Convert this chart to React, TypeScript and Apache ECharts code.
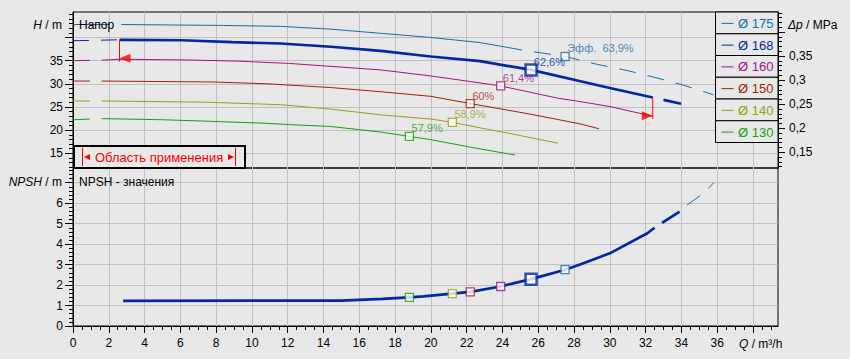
import { useEffect, useRef } from 'react';
import * as echarts from 'echarts';

// ---------------- data ----------------
const DIAMETERS = ['175', '168', '160', '150', '140', '130'];
const EFF_LABELS = ['Эфф.  63,9%', '62,6%', '61,4%', '60%', '58,9%', '57,9%'];
const EFF_Q = [27.5, 25.6, 23.9, 22.2, 21.2, 18.8];
const EFF_H = [35.9, 33.0, 29.55, 25.75, 21.7, 18.65];
const EFF_NPSH = [2.75, 2.29, 1.93, 1.67, 1.58, 1.4];

// H(Q) curves, [Q m³/h, H m]
const H175_START = [[0, 42.8], [2.7, 42.8]];
const H175_MAIN = [[2.7, 42.8], [8.4, 42.6], [11.6, 42.4], [14.4, 41.8], [17.2, 40.9], [20, 40.0], [22.75, 38.9], [25.1, 37.3]];
const H175_END = [[25.1, 37.3], [27.5, 35.9], [29.3, 34.2], [31, 32.85], [32.5, 31.4], [34, 29.85], [35.5, 28.0], [35.8, 27.6]];

const H168_START = [[0, 39.3], [2.6, 39.5]];
const H168_MAIN = [[2.6, 39.5], [6.1, 39.4], [8.9, 39.0], [11.6, 38.7], [14.4, 38.0], [17.2, 37.1], [20, 35.9], [22.75, 34.9], [25.6, 33.0], [28.3, 30.6], [30, 29.1], [32.4, 27.05]];
const H168_END = [[32.4, 27.05], [34, 25.7]];

const H160_START = [[0, 35.0], [1.6, 35.1]];
const H160_MAIN = [[1.6, 35.1], [2.6, 35.3], [6.4, 35.15], [9.2, 34.9], [12.1, 34.4], [17.2, 33.0], [20, 31.7], [22.75, 30.2], [23.9, 29.55], [27.1, 26.9], [28.3, 26.2], [30, 25.1], [32.4, 23.0]];

const H150_START = [[0, 30.6], [1.6, 30.6]];
const H150_MAIN = [[1.6, 30.6], [7.8, 30.4], [10.9, 30.0], [14.4, 29.2], [17.2, 28.3], [20, 27.3], [22.2, 25.75], [25.5, 23.5], [28.3, 21.4], [29.4, 20.3]];

const H140_START = [[0, 26.3], [1.6, 26.3]];
const H140_MAIN = [[1.6, 26.3], [7.4, 26.05], [9.3, 25.8], [11.6, 25.5], [14.4, 24.55], [17.2, 23.3], [20, 22.4], [21.2, 21.7], [22.75, 20.5], [24.4, 19.3], [27.1, 17.2]];

const H130_START = [[0, 22.25], [1.6, 22.5]];
const H130_MAIN = [[1.6, 22.5], [5, 22.25], [7.8, 21.9], [10.7, 21.5], [12.1, 21.2], [14.4, 20.8], [17.2, 19.6], [18.8, 18.65], [20, 17.95], [22.4, 16.2], [24.7, 14.65]];

// operating range boundaries
const RANGE_LEFT = [[2.6, 39.5], [2.6, 34.8]];
const RANGE_RIGHT = [[32.4, 27.05], [32.4, 22.45]];
const RANGE_ARROWS = [[2.6, 35.5], [32.4, 23.1]];

// NPSH(Q)
const NPSH_MAIN = [[2.8, 1.23], [15, 1.24], [17.3, 1.33], [18.8, 1.4], [19.6, 1.45], [21.2, 1.58], [22.2, 1.67], [23.9, 1.93], [25.6, 2.29], [27.5, 2.75], [28.3, 2.99], [30, 3.55], [32.1, 4.53], [32.5, 4.8]];
const NPSH_END = [[32.5, 4.8], [33.9, 5.59]];
const NPSH_175 = [[33.9, 5.59], [34.3, 5.9], [35.05, 6.37], [35.55, 6.76], [35.8, 7.0]];

// axis labels
const X_LABELS = [0, 2, 4, 6, 8, 10, 12, 14, 16, 18, 20, 22, 24, 26, 28, 30, 32, 34, 36];
const H_LABELS = [15, 20, 25, 30, 35];
const DP_LABELS = [0.15, 0.2, 0.25, 0.3, 0.35];
const NPSH_LABELS = [0, 1, 2, 3, 4, 5, 6];

// ---------------- styles ----------------
const COLORS = ['#146eaa', '#0028a0', '#a01482', '#a01e0a', '#96a014', '#14a014'];
const BG = '#e8e8e8';
const GRID = '#c0c0c0';
const FONT = 'Liberation Sans, Arial, sans-serif';
const RED = '#ff0000';

const tickRange = (a: number, b: number, step: number) => {
  const out: number[] = [];
  for (let v = a; v <= b + 1e-9; v += step) out.push(Math.round(v * 1000) / 1000);
  return out;
};

const lbl = { color: '#000', fontSize: 12, fontFamily: FONT };
const blackLine = { color: '#000', width: 1 };

function line(data: number[][], color: string, width: number, xi: number, yi: number, dash?: number[], dashOffset?: number) {
  return {
    type: 'line',
    data,
    xAxisIndex: xi,
    yAxisIndex: yi,
    showSymbol: false,
    symbol: 'none',
    smooth: false,
    silent: true,
    z: 3,
    lineStyle: { color, width, type: dash || 'solid', dashOffset: dashOffset || 0, cap: 'butt' },
  };
}

function buildOption() {
  const series: any[] = [
    line(H175_START, COLORS[0], 1, 0, 0, [37, 12]),
    line(H175_MAIN, COLORS[0], 1, 0, 0),
    line(H175_END, COLORS[0], 1, 0, 0, [17, 12], 17),
    line(H160_START, COLORS[2], 1, 0, 0, [17, 12]),
    line(H160_MAIN, COLORS[2], 1, 0, 0),
    line(H150_START, COLORS[3], 1, 0, 0, [17, 12]),
    line(H150_MAIN, COLORS[3], 1, 0, 0),
    line(H140_START, COLORS[4], 1, 0, 0, [17, 12]),
    line(H140_MAIN, COLORS[4], 1, 0, 0),
    line(H130_START, COLORS[5], 1, 0, 0, [17, 12]),
    line(H130_MAIN, COLORS[5], 1, 0, 0),
    line(H168_START, COLORS[1], 1, 0, 0, [16, 12]),
    line(H168_MAIN, COLORS[1], 2.7, 0, 0),
    line(H168_END, COLORS[1], 2.7, 0, 0, [18, 11], 18),
    line(RANGE_LEFT, RED, 1, 0, 0),
    line(RANGE_RIGHT, RED, 1, 0, 0),
    {
      type: 'scatter',
      xAxisIndex: 0,
      yAxisIndex: 0,
      silent: true,
      z: 5,
      symbol: 'triangle',
      data: RANGE_ARROWS.map((p, i) => ({
        value: p,
        symbolRotate: i === 0 ? 90 : -90,
        symbolOffset: i === 0 ? [5.5, 0] : [-5.5, 0],
      })),
      symbolSize: [9, 11],
      itemStyle: { color: RED },
    },
    {
      type: 'scatter',
      xAxisIndex: 0,
      yAxisIndex: 0,
      silent: true,
      z: 6,
      symbol: 'rect',
      data: EFF_Q.map((q, i) => {
        const big = i === 1;
        return {
          value: [q, EFF_H[i]],
          symbolSize: big ? 11 : 8,
          itemStyle: { color: '#ffffff', borderColor: COLORS[i], borderWidth: big ? 2.5 : 1.3 },
          label: {
            show: true,
            formatter: EFF_LABELS[i],
            position: 'right',
            distance: 0,
            offset: [big ? -4 : -2.5, -8],
            color: COLORS[i],
            fontSize: 11,
            fontFamily: FONT,
          },
        };
      }),
    },
    line(NPSH_MAIN, COLORS[1], 2.7, 1, 4),
    line(NPSH_END, COLORS[1], 2.7, 1, 4, [21, 9], 21),
    line(NPSH_175, COLORS[0], 1, 1, 4, [16, 11], 17),
    {
      type: 'scatter',
      xAxisIndex: 1,
      yAxisIndex: 4,
      silent: true,
      z: 6,
      symbol: 'rect',
      data: EFF_Q.map((q, i) => {
        const big = i === 1;
        return {
          value: [q, EFF_NPSH[i]],
          symbolSize: big ? 11 : 8,
          itemStyle: { color: '#ffffff', borderColor: COLORS[i], borderWidth: big ? 2.5 : 1.3 },
        };
      }),
    },
  ];

  const graphic: any[] = [];
  const text = (t: string, x: number, y: number, align: string, extra: any = {}) => ({
    type: 'text',
    z: 100,
    silent: true,
    style: {
      text: t,
      x,
      y,
      fill: '#000',
      fontSize: 12,
      fontFamily: FONT,
      align,
      textAlign: align,
      verticalAlign: 'middle',
      textVerticalAlign: 'middle',
      ...extra,
    },
  });
  const italic = { fontStyle: 'italic', fontSize: 12, fontFamily: FONT, fill: '#000' };
  const plain = { fontSize: 12, fontFamily: FONT, fill: '#000' };

  graphic.push(text('Напор', 79, 24.5, 'left'));
  graphic.push(text('NPSH - значения', 79, 182, 'left'));
  graphic.push(text('{i|H}{p| / m}', 62, 24.5, 'right', { rich: { i: italic, p: plain } }));
  graphic.push(text('{i|NPSH}{p| / m}', 62, 182, 'right', { rich: { i: italic, p: plain } }));
  graphic.push(text('{i|Δp}{p| / MPa}', 788, 24.5, 'left', { rich: { i: italic, p: plain } }));
  graphic.push(text('{i|Q}{p| / m³/h}', 739, 344, 'left', { rich: { i: italic, p: plain } }));

  // operating range box
  graphic.push({
    type: 'rect', z: 100, silent: true,
    shape: { x: 74, y: 146, width: 171, height: 22 },
    style: { fill: BG, stroke: '#000', lineWidth: 2 },
  });
  graphic.push({ type: 'line', z: 101, silent: true, shape: { x1: 82.5, y1: 147.5, x2: 82.5, y2: 166 }, style: { stroke: RED, lineWidth: 1 } });
  graphic.push({ type: 'line', z: 101, silent: true, shape: { x1: 235.5, y1: 147.5, x2: 235.5, y2: 166 }, style: { stroke: RED, lineWidth: 1 } });
  graphic.push({ type: 'polygon', z: 101, silent: true, shape: { points: [[84, 157], [90, 154], [90, 160]] }, style: { fill: RED } });
  graphic.push({ type: 'polygon', z: 101, silent: true, shape: { points: [[234, 157], [228, 154], [228, 160]] }, style: { fill: RED } });
  graphic.push(text('Область применения', 95, 157.5, 'left', { fill: RED, fontSize: 13 }));

  // legend boxes
  const rowH = 21.75;
  DIAMETERS.forEach((d, i) => {
    const y0 = 12 + i * rowH;
    graphic.push({
      type: 'rect', z: 100, silent: true,
      shape: { x: 715.5, y: y0, width: 62.5, height: rowH },
      style: { fill: BG, stroke: '#000', lineWidth: 1 },
    });
    graphic.push({
      type: 'line', z: 101, silent: true,
      shape: { x1: 721.5, y1: y0 + rowH / 2 + 0.5, x2: 733.5, y2: y0 + rowH / 2 + 0.5 },
      style: { stroke: COLORS[i], lineWidth: 1 },
    });
    graphic.push(text('Ø ' + d, 738, y0 + rowH / 2 + 0.5, 'left', { fill: COLORS[i], fontSize: 13 }));
  });

  const xBase = { min: 0, max: 39.4, interval: 2, type: 'value' };

  return {
    animation: false,
    backgroundColor: BG,
    grid: [
      { left: 73, top: 12, width: 705, height: 156, show: true, borderColor: '#000', borderWidth: 1, backgroundColor: 'transparent' },
      { left: 73, top: 168, width: 705, height: 158, show: true, borderColor: '#000', borderWidth: 1, backgroundColor: 'transparent' },
    ],
    xAxis: [
      {
        ...xBase, gridIndex: 0, position: 'bottom',
        axisLine: { show: false }, axisTick: { show: false }, axisLabel: { show: false },
        splitLine: { show: true, lineStyle: { color: GRID, width: 1 } },
      },
      {
        ...xBase, gridIndex: 1, position: 'bottom',
        axisLine: { show: true, lineStyle: blackLine },
        axisTick: { show: true, length: 7, customValues: tickRange(0, 38, 2), lineStyle: blackLine },
        axisLabel: { ...lbl, margin: 11, customValues: X_LABELS },
        splitLine: { show: true, lineStyle: { color: GRID, width: 1 } },
      },
      {
        ...xBase, gridIndex: 1, position: 'bottom',
        axisLine: { show: false },
        axisTick: { show: true, length: 4, customValues: tickRange(0.5, 39, 0.5), lineStyle: blackLine },
        axisLabel: { show: false }, splitLine: { show: false },
      },
    ],
    yAxis: [
      {
        type: 'value', gridIndex: 0, position: 'left', min: 11.84, max: 45.5,
        axisLine: { show: true, lineStyle: blackLine },
        axisTick: { show: true, length: 8, customValues: [15, 20, 25, 30, 35, 40], lineStyle: blackLine },
        axisLabel: { ...lbl, margin: 10, customValues: H_LABELS },
        splitLine: { show: true, lineStyle: { color: GRID, width: 1 } },
      },
      {
        type: 'value', gridIndex: 0, position: 'left', min: 11.84, max: 45.5,
        axisLine: { show: false },
        axisTick: { show: true, length: 4, customValues: tickRange(12, 45, 1), lineStyle: blackLine },
        axisLabel: { show: false }, splitLine: { show: false },
      },
      {
        type: 'value', gridIndex: 0, position: 'right', min: 0.1173, max: 0.4417,
        axisLine: { show: true, lineStyle: blackLine },
        axisTick: { show: true, length: 7, customValues: [0.15, 0.2, 0.25, 0.3, 0.35, 0.4], lineStyle: blackLine },
        axisLabel: {
          ...lbl, margin: 11, customValues: DP_LABELS,
          formatter: (v: number) => String(Math.round(v * 100) / 100).replace('.', ','),
        },
        splitLine: { show: false },
      },
      {
        type: 'value', gridIndex: 0, position: 'right', min: 0.1173, max: 0.4417,
        axisLine: { show: false },
        axisTick: { show: true, length: 4, customValues: tickRange(0.12, 0.44, 0.01), lineStyle: blackLine },
        axisLabel: { show: false }, splitLine: { show: false },
      },
      {
        type: 'value', gridIndex: 1, position: 'left', min: 0, max: 7.72, interval: 1,
        axisLine: { show: true, lineStyle: blackLine },
        axisTick: { show: true, length: 8, customValues: [0, 1, 2, 3, 4, 5, 6, 7], lineStyle: blackLine },
        axisLabel: { ...lbl, margin: 10, customValues: NPSH_LABELS },
        splitLine: { show: true, lineStyle: { color: GRID, width: 1 } },
      },
      {
        type: 'value', gridIndex: 1, position: 'left', min: 0, max: 7.72,
        axisLine: { show: false },
        axisTick: { show: true, length: 4, customValues: tickRange(0.2, 7.6, 0.2), lineStyle: blackLine },
        axisLabel: { show: false }, splitLine: { show: false },
      },
    ],
    series,
    graphic,
  };
}

export default function App() {
  const ref = useRef<HTMLDivElement>(null);
  useEffect(() => {
    if (!ref.current) return;
    const chart = echarts.init(ref.current, null, { renderer: 'svg' });
    chart.setOption(buildOption() as any);
    return () => chart.dispose();
  }, []);
  return <div ref={ref} style={{ position: 'fixed', left: 0, top: 0, width: 850, height: 359 }} />;
}
